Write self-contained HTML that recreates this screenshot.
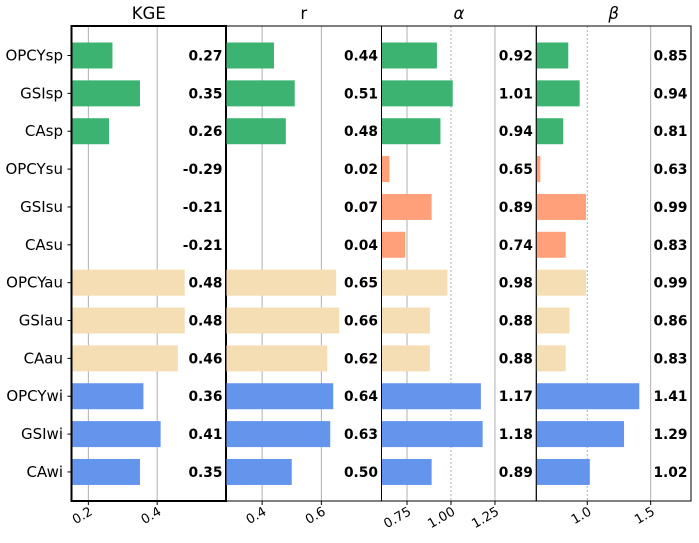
<!DOCTYPE html>
<html><head><meta charset="utf-8">
<style>
html,body{margin:0;padding:0;background:#fff;}
svg{display:block;font-family:"DejaVu Sans","Liberation Sans",sans-serif;}
</style></head>
<body>
<svg id="chart" width="699" height="543" viewBox="0 0 699 543" xmlns="http://www.w3.org/2000/svg"></svg>
<script>
const categories = ["OPCYsp","GSIsp","CAsp","OPCYsu","GSIsu","CAsu","OPCYau","GSIau","CAau","OPCYwi","GSIwi","CAwi"];
const seasonColors = ["#3cb371","#3cb371","#3cb371","#ffa07a","#ffa07a","#ffa07a","#f5deb3","#f5deb3","#f5deb3","#6495ed","#6495ed","#6495ed"];
const kgeValues = [0.27,0.35,0.26,-0.29,-0.21,-0.21,0.48,0.48,0.46,0.36,0.41,0.35];
const rValues = [0.44,0.51,0.48,0.02,0.07,0.04,0.65,0.66,0.62,0.64,0.63,0.50];
const alphaValues = [0.92,1.01,0.94,0.65,0.89,0.74,0.98,0.88,0.88,1.17,1.18,0.89];
const betaValues = [0.85,0.94,0.81,0.63,0.99,0.83,0.99,0.86,0.83,1.41,1.29,1.02];
const kgeTicks = [0.2,0.4];
const rTicks = [0.4,0.6];
const alphaTicks = [0.75,1.00,1.25];
const betaTicks = [1.0,1.5];

const svgEl = document.getElementById('chart');
const NS = "http://www.w3.org/2000/svg";
function mk(tag, attrs, parent){
  const e = document.createElementNS(NS, tag);
  for (const k in attrs) e.setAttribute(k, attrs[k]);
  (parent||svgEl).appendChild(e);
  return e;
}
const yTop = 26, yBottom = 501;
function yCenter(i){ return 55.5 + i*37.86; }
const barH = 26;

const panels = [
  {key:"kge", title:"KGE", italic:false, x0:71.5, x1:226, min:0.151, max:0.6, vals:kgeValues, ticks:kgeTicks, dec:1, dotted:null, frame:true},
  {key:"r", title:"r", italic:false, x0:226, x1:381.5, min:0.278, max:0.803, vals:rValues, ticks:rTicks, dec:1, dotted:null, frame:false},
  {key:"alpha", title:"α", italic:true, x0:381.5, x1:536.3, min:0.605, max:1.485, vals:alphaValues, ticks:alphaTicks, dec:2, dotted:1.0, frame:false},
  {key:"beta", title:"β", italic:true, x0:536.3, x1:691, min:0.598, max:1.818, vals:betaValues, ticks:betaTicks, dec:1, dotted:1.0, frame:false}
];

panels.forEach(p=>{
  const xs = v => p.x0 + (v - p.min)/(p.max - p.min)*(p.x1 - p.x0);
  const g = mk('g',{});
  
  
  p.ticks.forEach(t=>{
    const gl = mk('line',{x1:xs(t),x2:xs(t),y1:yTop,y2:yBottom,stroke:"#b0b0b0","stroke-width":1,
      "stroke-dasharray": (p.dotted!==null && Math.abs(t-p.dotted)<1e-9) ? "2,2" : "none"},g);
    
    
  });
  p.vals.forEach((v,i)=>{
    const xe = Math.min(xs(v), p.x1);
    if (xe > p.x0) {
      const r = mk('rect',{x:p.x0,y:yCenter(i)-barH/2,width:xe-p.x0,height:barH,fill:seasonColors[i]},g);
      
      
    }
    const t = mk('text',{x:p.x1-3.5,y:yCenter(i)+5,"text-anchor":"end","font-size":"13.8","font-weight":"bold",fill:"#000"},g);
    t.textContent = v.toFixed(2);
    
    
  });
  p.ticks.forEach(t=>{
    const x = xs(t);
    mk('line',{x1:x,x2:x,y1:yBottom,y2:yBottom+4,stroke:"#000","stroke-width":1},g);
    const lab = mk('text',{x:0,y:0,"text-anchor":"end","font-size":"13",fill:"#000",
      transform:`translate(${x+5},${yBottom+13}) rotate(-30)`},g);
    lab.textContent = t.toFixed(p.dec===2?2:1);
    
    
  });
  mk('rect',{x:p.x0,y:yTop,width:p.x1-p.x0,height:yBottom-yTop,fill:"none",stroke:"#000","stroke-width":1},g);
  const tt = mk('text',{x:(p.x0+p.x1)/2,y:19,"text-anchor":"middle","font-size":"16.5","font-style":p.italic?"italic":"normal",fill:"#000"},g);
  tt.textContent = p.title;
  
  
  if (p.frame) {
    const f = mk('rect',{x:p.x0,y:yTop,width:p.x1-p.x0,height:yBottom-yTop,fill:"none",stroke:"#000","stroke-width":2},g);
    
    
  }
});

categories.forEach((c,i)=>{
  mk('line',{x1:67.5,x2:71.5,y1:yCenter(i),y2:yCenter(i),stroke:"#000","stroke-width":1});
  const t = mk('text',{x:63,y:yCenter(i)+5,"text-anchor":"end","font-size":"15",fill:"#000"});
  t.textContent = c;
  
  
});
</script>
</body></html>
